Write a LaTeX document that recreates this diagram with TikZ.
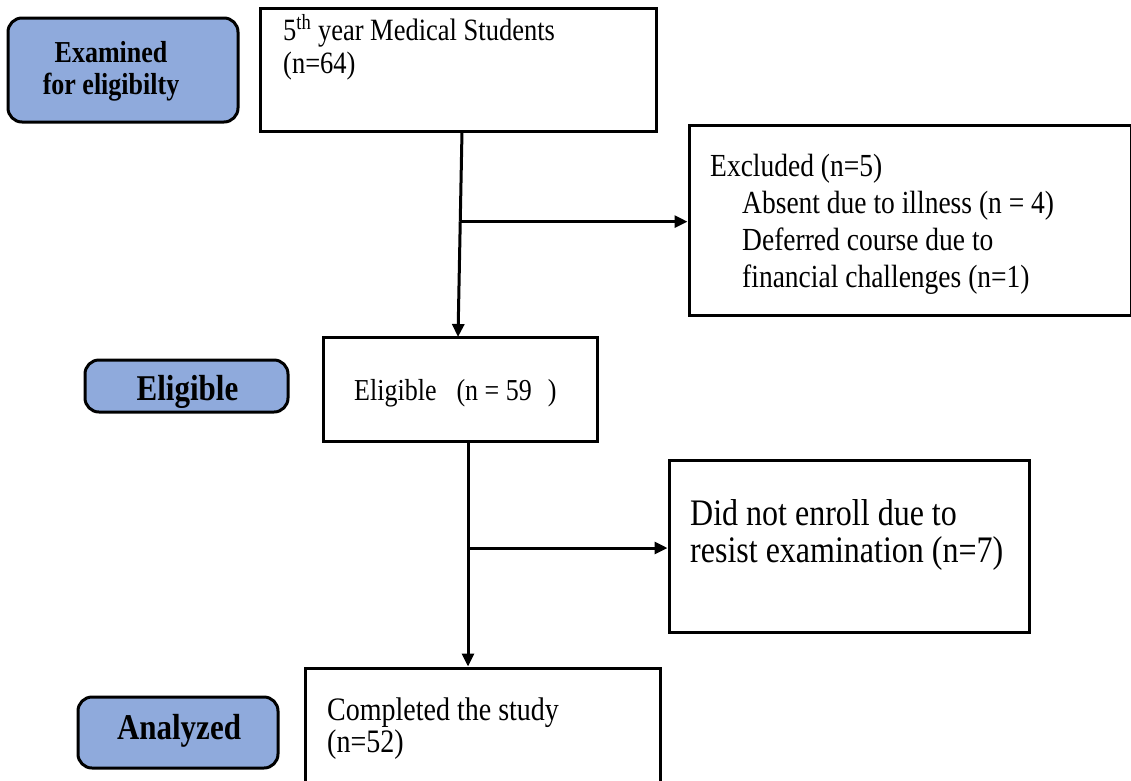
\documentclass[tikz,border=0pt]{standalone}
\usepackage{fontspec}
\setmainfont{Liberation Serif}
\usetikzlibrary{calc,arrows.meta}
\definecolor{labblue}{HTML}{8FAADC}
\newcommand{\vstr}[1]{\scalebox{1}[1.17]{#1}}
\setlength{\lineskiplimit}{-100pt}
\begin{document}
\begin{tikzpicture}[x=1pt,y=-1pt,
  lab/.style={draw=black,line width=3pt,fill=labblue,rounded corners=14pt,inner sep=0pt},
  labtxt/.style={align=center,inner sep=0pt,font=\bfseries\fontsize{31}{36}\selectfont},
  plainbox/.style={draw=black,line width=3pt,fill=white,inner sep=0pt},
  txt/.style={anchor=base west,align=left,inner sep=0pt},
  conn/.style={line width=3pt,-{Triangle[length=13pt,width=12pt]}},
  stem/.style={line width=3pt}]
\useasboundingbox (0,0) rectangle (1131,780);
\clip (0,0) rectangle (1131,780);
% side labels
\node[lab,minimum width=230,minimum height=104] (exam) at (123,70) {};
\node[labtxt,font=\bfseries\fontsize{26}{32}\selectfont] (examtxt) at (111,71) {\vstr{Examined}\\\vstr{for eligibilty}};
\node[lab,minimum width=203,minimum height=52] (elig) at (186.5,386) {};
\node[labtxt] (eligtxt0) at (187.5,392) {\vstr{Eligible}};
\node[lab,minimum width=200,minimum height=71] (anal) at (178,732.5) {};
\node[labtxt] (analtxt) at (179,731) {\vstr{Analyzed}};
% boxes
\node[plainbox,minimum width=396,minimum height=123] (top) at (458,69.5) {};
\node[txt,font=\fontsize{26.5}{33}\selectfont] (toptxt) at (283,73) {\vstr{5\textsuperscript{th} year Medical Students}\\\vstr{(n=64)}};
\node[plainbox,minimum width=442,minimum height=190] (excl) at (910,220) {};
\node[txt,font=\fontsize{27.5}{37}\selectfont] (excltxt) at (710,287) {\vstr{Excluded (n=5)}\\\hspace*{32pt}\vstr{Absent due to illness (n = 4)}\\\hspace*{32pt}\vstr{Deferred course due to}\\\hspace*{32pt}\vstr{financial challenges (n=1)}};
\node[plainbox,minimum width=274,minimum height=104] (eligbox) at (460,389) {};
\node[txt,font=\fontsize{26}{30}\selectfont] (eligtxt) at (354,400) {\vstr{Eligible\hspace{20pt}(n = 59\hspace{16pt})}};
\node[plainbox,minimum width=360,minimum height=172] (noenr) at (849,546) {};
\node[txt,font=\fontsize{32}{37}\selectfont] (noenrtxt) at (690,562) {\vstr{Did not enroll due to}\\\vstr{resist examination (n=7)}};
\node[plainbox,minimum width=355,minimum height=140] (comp) at (482.5,738) {};
\node[txt,font=\fontsize{28}{32}\selectfont] (comptxt) at (327,752) {\vstr{Completed the study}\\\vstr{(n=52)}};
% connectors
\coordinate (s1) at (462,131);
\coordinate (e1) at (458,337);
\coordinate (b1) at ($(s1)!0.44!(e1)$);
\draw[stem] (s1) -- (b1);
\draw[conn] (b1) -- (e1);
\draw[conn] (b1) -- (excl.west |- b1);
\coordinate (s2) at (468,441);
\coordinate (b2) at (468,548);
\draw[stem] (s2) -- (b2);
\draw[conn] (b2) -- (comp.north -| b2);
\draw[conn] (b2) -- (noenr.west |- b2);
\end{tikzpicture}
\end{document}
